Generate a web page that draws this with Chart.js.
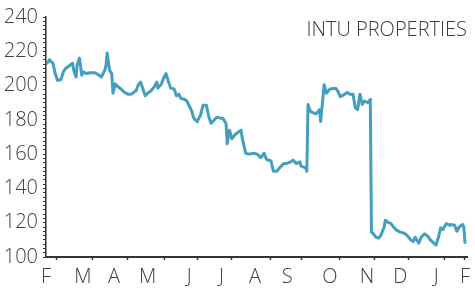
<!DOCTYPE html>
<html>
<head>
<meta charset="utf-8">
<script src="https://cdn.jsdelivr.net/npm/chart.js@4/dist/chart.umd.min.js"></script>
<style>
    html, body { margin: 0; padding: 0; background: #fff; }
    #wrap { position: relative; width: 475px; height: 290px; }
    #title {
        position: absolute; right: 8px; top: 19px;
        font-family: "Open Sans", sans-serif; font-weight: 300;
        font-size: 20px; line-height: 20px; color: #3a3a3a; white-space: nowrap;
    }
</style>
</head>
<body>
<div id="wrap">
    <canvas id="priceChart" width="475" height="290"></canvas>
    <div id="title">INTU PROPERTIES</div>
</div>
<script>
// days since start of the axis (early February)
const days = [1, 3, 6, 8, 10, 13, 15, 17, 21, 23, 24, 26, 27, 29, 31, 32, 35, 38, 42, 45,
    48, 51, 52, 53, 55, 57, 58, 60, 62, 65, 68, 71, 74, 78, 80, 82, 84, 86, 88, 91,
    94, 96, 97, 100, 102, 104, 106, 108, 111, 113, 115, 117, 120, 122, 126, 128, 131, 134, 136, 139,
    141, 143, 148, 151, 153, 156, 157, 159, 161, 164, 169, 170, 173, 176, 180, 183, 186, 189, 191, 195,
    197, 200, 203, 206, 208, 212, 214, 217, 220, 221, 225, 226, 227, 229, 232, 234, 237, 238, 241, 243,
    246, 251, 253, 255, 259, 261, 263, 266, 268, 270, 272, 274, 276, 279, 281, 282, 283, 286, 288, 290,
    293, 294, 297, 299, 301, 304, 307, 310, 313, 316, 318, 320, 323, 325, 328, 331, 333, 337, 338, 340,
    342, 344, 345, 347, 350, 351, 354, 356, 358, 361, 362, 363];

const prices = [213, 215, 213, 207, 203, 203.5, 208, 210, 212, 213, 209, 205, 212, 216, 206, 208, 207, 207.5, 207.5, 206.5,
    205, 209, 212, 219, 209, 207, 195.5, 201, 199.5, 198, 196, 195, 195, 197, 200.5, 202, 198, 194, 195.5, 197,
    199.5, 202, 198.5, 201, 204.5, 207, 202.5, 198.5, 198, 194, 195, 192.5, 192, 191, 185.5, 181, 179, 183, 188.5, 188.5,
    182, 178, 181.5, 181, 181, 178, 166, 174, 169, 171.5, 174, 169.5, 160.5, 160, 160.5, 160, 158, 160.5, 157, 156,
    150, 150, 152.5, 154.5, 154.5, 155.5, 156.5, 154.5, 155.5, 153, 152, 150, 189, 185, 184, 183.5, 186, 179, 200.5, 195.5,
    198, 198.5, 196.5, 193.5, 195, 196, 195, 195, 187, 186, 195, 189, 191, 190, 192, 114.5, 114, 111.5, 111, 112.5,
    117.5, 121.5, 120, 119.5, 117.5, 115.5, 114.5, 114, 112.5, 110, 109, 111.5, 108, 111.5, 113.5, 112, 110, 107.5, 107, 111.5,
    117, 116, 117.5, 119.5, 118.5, 119, 118.5, 115, 117.5, 119, 117.5, 108.5];

const monthLabels = ['F', 'M', 'A', 'M', 'J', 'J', 'A', 'S', 'O', 'N', 'D', 'J', 'F'];
const labelDays = [0, 32, 59, 88, 124, 152, 181, 209, 246, 278, 307, 338, 363];
const tickDays = [9.5, 40.5, 70.6, 102.4, 131.7, 161, 194.6, 221.3, 254, 285, 314.2, 345.2, 363];

const textColor = '#404040';
const axisFont = { family: '"Open Sans", sans-serif', weight: 300, size: 20 };

const ctx = document.getElementById('priceChart').getContext('2d');

new Chart(ctx, {
    type: 'line',
    data: {
        datasets: [{
            data: days.map((d, i) => ({ x: d, y: prices[i] })),
            borderColor: '#449ec0',
            borderWidth: 3,
            borderJoinStyle: 'round',
            borderCapStyle: 'round',
            pointRadius: 0,
            tension: 0,
            fill: false
        }]
    },
    options: {
        responsive: false,
        animation: false,
        layout: { padding: { top: 15, right: 5, left: 0, bottom: 0 } },
        plugins: {
            legend: { display: false },
            tooltip: { enabled: false }
        },
        scales: {
            x: {
                type: 'linear',
                min: 0,
                max: 365,
                afterBuildTicks: function(scale) {
                    const all = Array.from(new Set(labelDays.concat(tickDays))).sort((a, b) => a - b);
                    scale.ticks = all.map(v => ({ value: v }));
                },
                afterFit: function(scale) { scale.height = 33; },
                ticks: {
                    autoSkip: false,
                    maxRotation: 0,
                    padding: 5,
                    color: textColor,
                    font: axisFont,
                    callback: function(value) {
                        const i = labelDays.indexOf(value);
                        return i >= 0 ? monthLabels[i] : '';
                    }
                },
                grid: {
                    drawOnChartArea: false,
                    tickLength: 3,
                    tickWidth: 1.5,
                    color: function(c) {
                        return c.tick && tickDays.includes(c.tick.value) ? '#333' : 'rgba(0,0,0,0)';
                    }
                },
                border: { display: true, color: '#333', width: 2 }
            },
            y: {
                min: 100,
                max: 240,
                afterFit: function(scale) { scale.width = 46; },
                ticks: {
                    stepSize: 2.5,
                    maxTicksLimit: 100,
                    autoSkip: false,
                    padding: 5,
                    color: textColor,
                    font: axisFont,
                    callback: function(value) {
                        return value % 20 === 0 ? value : '';
                    }
                },
                grid: {
                    drawOnChartArea: false,
                    tickLength: 3,
                    color: '#333'
                },
                border: { display: true, color: '#333', width: 1.5 }
            }
        }
    }
});
</script>
</body>
</html>
